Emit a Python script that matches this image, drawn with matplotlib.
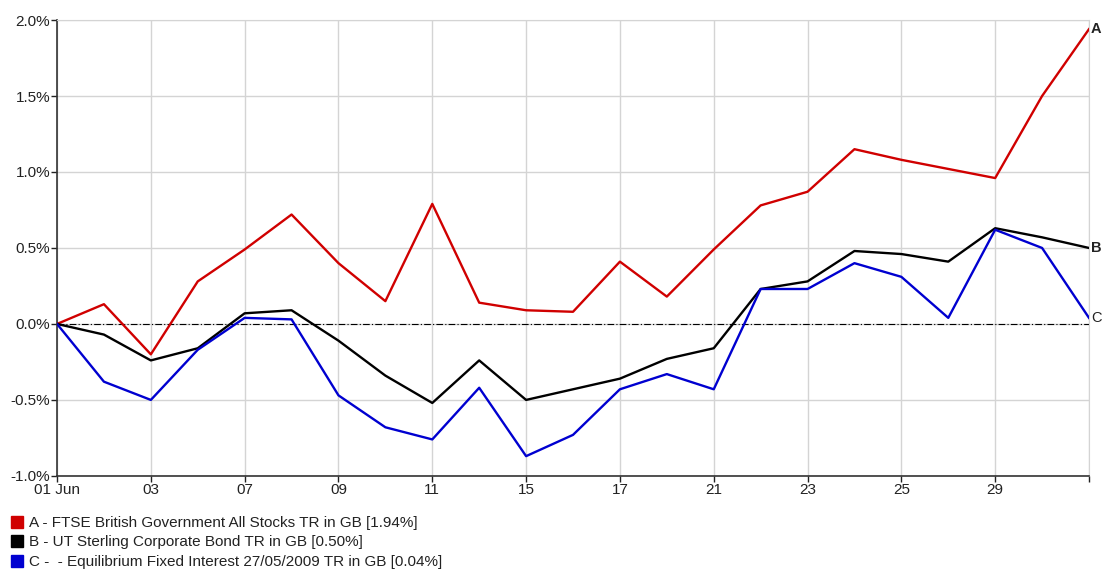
import matplotlib.pyplot as plt
from matplotlib.lines import Line2D

plt.rcParams['font.family'] = ['Liberation Sans', 'DejaVu Sans']

# business days, June 2010 (+1 Jul)
fechas = ["01", "02", "03", "04", "07", "08", "09", "10", "11", "14", "15", "16",
          "17", "18", "21", "22", "23", "24", "25", "28", "29", "30", "01"]
tick_labels = ["01 Jun", "03", "07", "09", "11", "15", "17", "21", "23", "25", "29", ""]

serie_a = [0.0, 0.13, -0.20, 0.28, 0.49, 0.72, 0.40, 0.15, 0.79, 0.14, 0.09, 0.08,
           0.41, 0.18, 0.49, 0.78, 0.87, 1.15, 1.08, 1.02, 0.96, 1.50, 1.94]
serie_b = [0.0, -0.07, -0.24, -0.16, 0.07, 0.09, -0.11, -0.34, -0.52, -0.24, -0.50, -0.43,
           -0.36, -0.23, -0.16, 0.23, 0.28, 0.48, 0.46, 0.41, 0.63, 0.57, 0.50]
serie_c = [0.0, -0.38, -0.50, -0.17, 0.04, 0.03, -0.47, -0.68, -0.76, -0.42, -0.87, -0.73,
           -0.43, -0.33, -0.43, 0.23, 0.23, 0.40, 0.31, 0.04, 0.62, 0.50, 0.04]

nombres = ["A - FTSE British Government All Stocks TR in GB [1.94%]",
           "B - UT Sterling Corporate Bond TR in GB [0.50%]",
           "C -  - Equilibrium Fixed Interest 27/05/2009 TR in GB [0.04%]"]
letras = ["A", "B", "C"]
colores = ["#d00000", "#000000", "#0000d0"]

fig = plt.figure(figsize=(11.03, 5.72), dpi=100)
ax = fig.add_axes([0.0517, 0.168, 0.9356, 0.797])

x = list(range(len(fechas)))
for serie, color, letra in zip([serie_a, serie_b, serie_c], colores, letras):
    ax.plot(x, serie, color=color, lw=1.7, zorder=3)
    ax.annotate(letra, (x[-1], serie[-1]), xytext=(1.5, 0), textcoords="offset points",
                ha="left", va="center", fontsize=10.5, color="#222222",
                fontweight="bold" if letra != "C" else "normal")

ax.axhline(0, color="black", lw=0.8, linestyle=(0, (6, 2, 1, 2)), zorder=2)

ax.set_xlim(0, len(fechas) - 1)
ax.set_ylim(-1.0, 2.0)
ax.set_xticks(list(range(0, len(fechas), 2)))
ax.set_xticklabels(tick_labels)
ax.set_yticks([-1.0, -0.5, 0.0, 0.5, 1.0, 1.5, 2.0])
ax.set_yticklabels([f"{v:.1f}%" for v in [-1.0, -0.5, 0.0, 0.5, 1.0, 1.5, 2.0]])
ax.tick_params(labelsize=11, length=4, width=1, pad=1, colors="#222222")

ax.grid(True, color="#d4d4d4", lw=1)
ax.set_axisbelow(True)
for lado in ["top", "right"]:
    ax.spines[lado].set_color("#d4d4d4")
for lado in ["left", "bottom"]:
    ax.spines[lado].set_color("#333333")
    ax.spines[lado].set_linewidth(1.2)

handles = [Line2D([], [], marker="s", linestyle="none", color=c, markersize=8) for c in colores]
fig.legend(handles, nombres, loc="upper left", bbox_to_anchor=(0.0, 0.114), frameon=False,
           fontsize=11, handletextpad=0.3, labelspacing=0.36, borderaxespad=0.2, handlelength=1.0,
           labelcolor="#222222")

plt.savefig("out.png", dpi=100)
